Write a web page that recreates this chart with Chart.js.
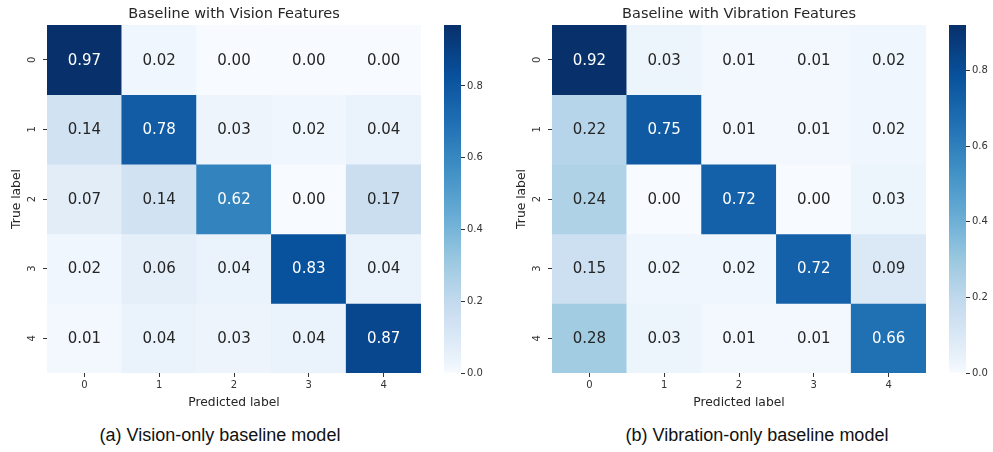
<!DOCTYPE html>
<html>
<head>
<meta charset="utf-8">
<script src="https://cdn.jsdelivr.net/npm/chart.js@4.4.1/dist/chart.umd.min.js"></script>
<style>
html, body { margin: 0; padding: 0; background: #fff; overflow: hidden; }
body { width: 993px; height: 452px; position: relative; }
.box { position: absolute; top: 0; height: 415px; }
.caption { position: absolute; top: 425px; width: 400px; text-align: center;
           font: 18px 'Liberation Sans', Arial, sans-serif; color: #111; }
</style>
</head>
<body>
<div class="box" style="left:0;width:425px"><canvas id="heatVision"></canvas></div>
<div class="box" style="left:430px;width:60px"><canvas id="barVision"></canvas></div>
<div class="box" style="left:505px;width:425px"><canvas id="heatVibration"></canvas></div>
<div class="box" style="left:935px;width:58px"><canvas id="barVibration"></canvas></div>
<div class="caption" id="capVision" style="left:20px"></div>
<div class="caption" id="capVibration" style="left:557px"></div>

<script>
const CLASS_LABELS = ['0', '1', '2', '3', '4'];

// rows = true label, columns = predicted label
const VISION_ROWS = [
    [0.97, 0.02, 0.00, 0.00, 0.00],
    [0.14, 0.78, 0.03, 0.02, 0.04],
    [0.07, 0.14, 0.62, 0.00, 0.17],
    [0.02, 0.06, 0.04, 0.83, 0.04],
    [0.01, 0.04, 0.03, 0.04, 0.87]
];
const VIBRATION_ROWS = [
    [0.92, 0.03, 0.01, 0.01, 0.02],
    [0.22, 0.75, 0.01, 0.01, 0.02],
    [0.24, 0.00, 0.72, 0.00, 0.03],
    [0.15, 0.02, 0.02, 0.72, 0.09],
    [0.28, 0.03, 0.01, 0.01, 0.66]
];
const COLORBAR_TICKS = [0, 0.2, 0.4, 0.6, 0.8];

const TITLE_VISION    = 'Baseline with Vision Features';
const TITLE_VIBRATION = 'Baseline with Vibration Features';
const CAPTION_VISION    = '(a) Vision-only baseline model';
const CAPTION_VIBRATION = '(b) Vibration-only baseline model';

const FONT = "'DejaVu Sans', sans-serif";
const INK  = '#262626';

// matplotlib "Blues"
const BLUES = [
    [247, 251, 255], [222, 235, 247], [198, 219, 239], [158, 202, 225], [107, 174, 214],
    [66, 146, 198], [33, 113, 181], [8, 81, 156], [8, 48, 107]
];

// the scanned figure reads a little darker than plain Blues, so bend t slightly
function blues(t) {
    t = Math.pow(Math.max(0, Math.min(1, t)), 0.85);
    const p = t * (BLUES.length - 1);
    const i = Math.min(Math.floor(p), BLUES.length - 2);
    const f = p - i;
    return BLUES[i].map((v, k) => Math.round(v + (BLUES[i + 1][k] - v) * f));
}
const rgb = c => `rgb(${c[0]},${c[1]},${c[2]})`;

function luminance(c) {
    const lin = c.map(v => { v /= 255; return v <= 0.03928 ? v / 12.92 : Math.pow((v + 0.055) / 1.055, 2.4); });
    return 0.2126 * lin[0] + 0.7152 * lin[1] + 0.0722 * lin[2];
}

Chart.defaults.font.family = FONT;
Chart.defaults.color = INK;

const cellText = {
    id: 'cellText',
    afterDatasetsDraw(chart) {
        const ctx = chart.ctx;
        ctx.save();
        ctx.font = `15px ${FONT}`;
        ctx.textAlign = 'center';
        ctx.textBaseline = 'middle';
        chart.data.datasets.forEach((ds, r) => {
            chart.getDatasetMeta(r).data.forEach((bar, c) => {
                ctx.fillStyle = ds.textColors[c];
                ctx.fillText(ds.values[c].toFixed(2), bar.x, (bar.y + bar.base) / 2 + 1);
            });
        });
        ctx.restore();
    }
};

function renderHeatmap(canvasId, title, rows) {
    const vmax = Math.max(...rows.flat());
    const datasets = rows.map((row, r) => {
        const cols = row.map(v => blues(v / vmax));
        return {
            label: CLASS_LABELS[r],
            data: row.map(() => [r, r + 1]),
            values: row,
            backgroundColor: cols.map(rgb),
            textColors: cols.map(c => luminance(c) > 0.408 ? INK : '#ffffff'),
            borderWidth: 0,
            grouped: false,
            barPercentage: 1,
            categoryPercentage: 1
        };
    });
    new Chart(document.getElementById(canvasId), {
        type: 'bar',
        data: { labels: CLASS_LABELS, datasets },
        plugins: [cellText],
        options: {
            responsive: true, maintainAspectRatio: false, animation: false,
            layout: { padding: { left: 0, right: 4, top: 0, bottom: 0 } },
            plugins: { legend: { display: false }, tooltip: { enabled: false } },
            scales: {
                top: {
                    type: 'category', position: 'top', labels: CLASS_LABELS,
                    grid: { display: false }, border: { display: false },
                    ticks: { display: false },
                    title: { display: true, text: title, color: INK,
                             font: { size: 14.5 }, padding: { top: 6, bottom: 0 } },
                    afterFit: s => { s.height = 25; }
                },
                x: {
                    grid: { offset: false, drawOnChartArea: false, tickLength: 4, color: '#333' },
                    border: { display: false },
                    ticks: { color: '#333', font: { size: 10 }, padding: 2, maxRotation: 0 },
                    title: { display: true, text: 'Predicted label', color: INK,
                             font: { size: 12.3 }, padding: { top: 0, bottom: 5 } },
                    afterFit: s => { s.height = 42; }
                },
                y: {
                    stacked: false, reverse: true, min: 0, max: 5,
                    afterBuildTicks: s => { s.ticks = CLASS_LABELS.map((_, i) => ({ value: i + 0.5 })); },
                    grid: { drawOnChartArea: false, tickLength: 4, color: '#333' },
                    border: { display: false },
                    ticks: { color: '#333', font: { size: 10 }, padding: 7, minRotation: 90, maxRotation: 90,
                             crossAlign: 'center', callback: (v, i) => CLASS_LABELS[i] },
                    title: { display: true, text: 'True label', color: INK,
                             font: { size: 12.3 }, padding: { top: 9, bottom: 0 } },
                    afterFit: s => { s.width = 47; }
                }
            }
        }
    });
    return vmax;
}

function renderColorbar(canvasId, vmax, axisWidth) {
    new Chart(document.getElementById(canvasId), {
        type: 'bar',
        data: {
            labels: [''],
            datasets: [{
                data: [[0, vmax]],
                borderWidth: 0, barPercentage: 1, categoryPercentage: 1,
                backgroundColor: c => {
                    const area = c.chart.chartArea;
                    if (!area) return null;
                    const g = c.chart.ctx.createLinearGradient(0, area.bottom, 0, area.top);
                    for (let i = 0; i <= 40; i++) g.addColorStop(i / 40, rgb(blues(i / 40)));
                    return g;
                }
            }]
        },
        options: {
            responsive: true, maintainAspectRatio: false, animation: false,
            layout: { padding: { left: 14, right: 0, top: 25, bottom: 42 } },
            plugins: { legend: { display: false }, tooltip: { enabled: false } },
            scales: {
                x: { display: false },
                y: {
                    position: 'right', min: 0, max: vmax,
                    afterBuildTicks: s => { s.ticks = COLORBAR_TICKS.map(v => ({ value: v })); },
                    grid: { drawOnChartArea: false, tickLength: 4, color: '#333' },
                    border: { display: false },
                    ticks: { color: '#333', font: { size: 10 }, padding: 2, callback: v => v.toFixed(1) },
                    afterFit: s => { s.width = axisWidth; }
                }
            }
        }
    });
}

document.getElementById('capVision').textContent = CAPTION_VISION;
document.getElementById('capVibration').textContent = CAPTION_VIBRATION;

const vmaxVision = renderHeatmap('heatVision', TITLE_VISION, VISION_ROWS);
renderColorbar('barVision', vmaxVision, 29);
const vmaxVibration = renderHeatmap('heatVibration', TITLE_VIBRATION, VIBRATION_ROWS);
renderColorbar('barVibration', vmaxVibration, 27);
</script>
</body>
</html>
